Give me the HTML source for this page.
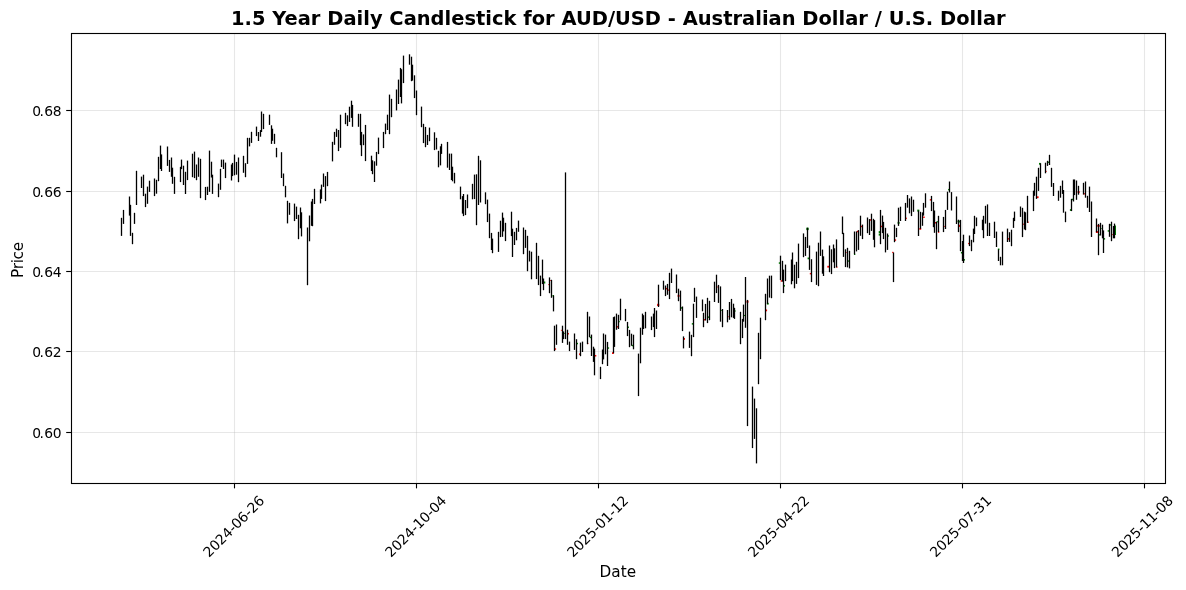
<!DOCTYPE html>
<html lang="en"><head><meta charset="utf-8"><title>1.5 Year Daily Candlestick for AUD/USD</title>
<style>html,body{margin:0;padding:0;background:#fff}body{width:1186px;height:590px;overflow:hidden}svg{will-change:transform}</style></head>
<body>
<svg width="1186" height="590" viewBox="0 0 1186 590" style="display:block;font-family:'DejaVu Sans','Liberation Sans',sans-serif">
<rect width="1186" height="590" fill="#fff"/>
<g stroke="#b0b0b0" stroke-opacity="0.3" stroke-width="1.11">
<line x1="234.5" y1="33.5" x2="234.5" y2="483.5"/>
<line x1="416.5" y1="33.5" x2="416.5" y2="483.5"/>
<line x1="598.5" y1="33.5" x2="598.5" y2="483.5"/>
<line x1="780.5" y1="33.5" x2="780.5" y2="483.5"/>
<line x1="962.5" y1="33.5" x2="962.5" y2="483.5"/>
<line x1="1144.5" y1="33.5" x2="1144.5" y2="483.5"/>
<line x1="71.5" y1="110.5" x2="1165.5" y2="110.5"/>
<line x1="71.5" y1="191.5" x2="1165.5" y2="191.5"/>
<line x1="71.5" y1="271.5" x2="1165.5" y2="271.5"/>
<line x1="71.5" y1="351.5" x2="1165.5" y2="351.5"/>
<line x1="71.5" y1="432.5" x2="1165.5" y2="432.5"/>
</g>
<g>
<rect x="1115" y="225.5" width="1" height="9.5" fill="#008000"/>
<rect x="543.3" y="281.5" width="2" height="2" fill="#008000"/>
<rect x="550.3" y="280.0" width="1" height="1" fill="#ff0000"/>
<rect x="548.3" y="284.1" width="1" height="1" fill="#ff0000"/>
<rect x="552.5" y="295.0" width="1.5" height="1.5" fill="#008000"/>
<rect x="554.6" y="348.3" width="1.5" height="1.5" fill="#ff0000"/>
<rect x="560.9" y="329.8" width="1" height="1" fill="#ff0000"/>
<rect x="567.4" y="333.0" width="1.5" height="1.5" fill="#ff0000"/>
<rect x="564.2" y="332.9" width="1" height="1" fill="#008000"/>
<rect x="576.5" y="342.8" width="1.5" height="1.5" fill="#008000"/>
<rect x="579.0" y="353.4" width="1.5" height="1.5" fill="#ff0000"/>
<rect x="587.4" y="343.1" width="1" height="1" fill="#ff0000"/>
<rect x="589.8" y="336.7" width="1.5" height="1.5" fill="#008000"/>
<rect x="594.8" y="355.0" width="1.5" height="1.5" fill="#ff0000"/>
<rect x="607.6" y="347.3" width="1.5" height="1.5" fill="#008000"/>
<rect x="612.0" y="352.2" width="1.8" height="1.8" fill="#ff0000"/>
<rect x="618.2" y="320.8" width="1.5" height="1.5" fill="#008000"/>
<rect x="616.8" y="326.1" width="1.5" height="1.5" fill="#ff0000"/>
<rect x="627.4" y="326.5" width="1.5" height="1.5" fill="#008000"/>
<rect x="631.9" y="344.8" width="1.5" height="1.5" fill="#008000"/>
<rect x="657.1" y="303.8" width="2.2" height="2.2" fill="#ff0000"/>
<rect x="665.6" y="287.9" width="1.5" height="1.5" fill="#ff0000"/>
<rect x="667.8" y="289.5" width="1.2" height="1.2" fill="#ff0000"/>
<rect x="677.6" y="294.8" width="2" height="2" fill="#ff0000"/>
<rect x="680.9" y="307.2" width="1.5" height="1.5" fill="#008000"/>
<rect x="683.2" y="338.0" width="1.8" height="1.8" fill="#ff0000"/>
<rect x="691.8" y="323.1" width="1.5" height="1.5" fill="#008000"/>
<rect x="703.6" y="319.0" width="1.5" height="1.5" fill="#ff0000"/>
<rect x="707.7" y="316.4" width="1.5" height="1.5" fill="#008000"/>
<rect x="717.4" y="286.4" width="1.2" height="1.2" fill="#ff0000"/>
<rect x="721.2" y="309.9" width="1" height="1" fill="#008000"/>
<rect x="728.3" y="316.2" width="1" height="1" fill="#ff0000"/>
<rect x="734.8" y="310.5" width="1" height="1" fill="#008000"/>
<rect x="806.3" y="227.7" width="2.4" height="2.4" fill="#008000"/>
<rect x="778.8" y="262.3" width="1.5" height="1.5" fill="#008000"/>
<rect x="780.7" y="280.2" width="1.5" height="1.5" fill="#ff0000"/>
<rect x="783.5" y="285.1" width="1.5" height="1.5" fill="#008000"/>
<rect x="807.6" y="257.5" width="1.8" height="1.8" fill="#008000"/>
<rect x="809.8" y="272.9" width="1.5" height="1.5" fill="#ff0000"/>
<rect x="827.3" y="265.8" width="1.8" height="1.8" fill="#ff0000"/>
<rect x="836.3" y="266.5" width="1.2" height="1.2" fill="#ff0000"/>
<rect x="847.9" y="260.4" width="1.3" height="1.3" fill="#008000"/>
<rect x="845.6" y="252.0" width="1" height="1" fill="#ff0000"/>
<rect x="854.0" y="253.7" width="1.3" height="1.3" fill="#008000"/>
<rect x="856.9" y="230.8" width="1.5" height="1.5" fill="#ff0000"/>
<rect x="861.0" y="225.7" width="1.5" height="1.5" fill="#ff0000"/>
<rect x="869.7" y="219.2" width="1.5" height="1.5" fill="#ff0000"/>
<rect x="878.7" y="231.1" width="2" height="2" fill="#008000"/>
<rect x="878.7" y="233.6" width="2" height="2" fill="#008000"/>
<rect x="880.9" y="225.7" width="1.5" height="1.5" fill="#ff0000"/>
<rect x="887.4" y="235.2" width="1.5" height="1.5" fill="#008000"/>
<rect x="894.6" y="239.3" width="1.5" height="1.5" fill="#ff0000"/>
<rect x="897.6" y="221.8" width="2" height="2" fill="#008000"/>
<rect x="905.3" y="217.6" width="1.5" height="1.5" fill="#ff0000"/>
<rect x="917.3" y="209.6" width="2" height="2" fill="#008000"/>
<rect x="919.4" y="228.0" width="1.8" height="1.8" fill="#ff0000"/>
<rect x="923.2" y="216.5" width="1.5" height="1.5" fill="#ff0000"/>
<rect x="934.8" y="222.0" width="1.5" height="1.5" fill="#ff0000"/>
<rect x="936.6" y="221.1" width="1.3" height="1.3" fill="#008000"/>
<rect x="938.0" y="231.5" width="1.3" height="1.3" fill="#ff0000"/>
<rect x="943.8" y="225.9" width="1" height="1" fill="#ff0000"/>
<rect x="957.5" y="220.5" width="1.8" height="1.8" fill="#008000"/>
<rect x="958.9" y="224.8" width="1.3" height="1.3" fill="#ff0000"/>
<rect x="746.5" y="300.7" width="2" height="2" fill="#ff0000"/>
<rect x="766.9" y="302.8" width="1.8" height="1.8" fill="#008000"/>
<rect x="765.3" y="309.5" width="1.8" height="1.8" fill="#ff0000"/>
<rect x="743.8" y="314.9" width="1.2" height="1.2" fill="#008000"/>
<rect x="892.2" y="251.8" width="1.3" height="1.3" fill="#ff0000"/>
<rect x="929.8" y="199.1" width="1.5" height="1.5" fill="#ff0000"/>
<rect x="948.1" y="188.9" width="1.5" height="1.5" fill="#008000"/>
<rect x="958.1" y="220.7" width="1.8" height="1.8" fill="#008000"/>
<rect x="958.9" y="225.6" width="1.3" height="1.3" fill="#ff0000"/>
<rect x="960.9" y="252.0" width="1.5" height="1.5" fill="#008000"/>
<rect x="963.5" y="259.1" width="1.5" height="1.5" fill="#008000"/>
<rect x="968.1" y="242.9" width="1.3" height="1.3" fill="#ff0000"/>
<rect x="997.9" y="248.5" width="1.5" height="1.5" fill="#008000"/>
<rect x="1007.6" y="238.1" width="1.5" height="1.5" fill="#ff0000"/>
<rect x="1023.3" y="223.5" width="1.5" height="1.5" fill="#ff0000"/>
<rect x="1027.5" y="221.6" width="1.2" height="1.2" fill="#ff0000"/>
<rect x="1036.8" y="196.3" width="1.8" height="1.8" fill="#ff0000"/>
<rect x="1039.0" y="162.9" width="1.8" height="1.8" fill="#008000"/>
<rect x="1045.4" y="170.8" width="1.2" height="1.2" fill="#ff0000"/>
<rect x="1047.8" y="161.6" width="1.3" height="1.3" fill="#008000"/>
<rect x="1069.9" y="209.1" width="1.8" height="1.8" fill="#008000"/>
<rect x="1071.7" y="198.7" width="1.5" height="1.5" fill="#008000"/>
<rect x="1077.6" y="191.1" width="2" height="2" fill="#ff0000"/>
<rect x="1083.3" y="193.0" width="1.5" height="1.5" fill="#ff0000"/>
<rect x="1095.9" y="231.0" width="2" height="2" fill="#ff0000"/>
<rect x="1097.5" y="224.9" width="1.5" height="1.5" fill="#ff0000"/>
<rect x="1103.6" y="238.1" width="1.5" height="1.5" fill="#008000"/>
<rect x="1107.7" y="230.2" width="1.5" height="1.5" fill="#008000"/>
<rect x="1096.4" y="225.3" width="1.3" height="1.3" fill="#ff0000"/>
<rect x="1099.0" y="225.3" width="1.3" height="1.3" fill="#ff0000"/>
<rect x="1099.0" y="234.2" width="1.3" height="1.3" fill="#008000"/>
<rect x="1109.9" y="224.3" width="1.3" height="1.3" fill="#008000"/>
<rect x="1111.8" y="234.1" width="1.0" height="1.0" fill="#ff0000"/>
<rect x="1101.0" y="228.1" width="0.8" height="0.8" fill="#008000"/>
</g>
<g stroke="#000" stroke-width="1.3">
<line x1="121.5" y1="217.8" x2="121.5" y2="235.9"/>
<line x1="123.5" y1="209.9" x2="123.5" y2="223.9"/>
<line x1="129.5" y1="196.5" x2="129.5" y2="215.6"/>
<line x1="130.5" y1="204.8" x2="130.5" y2="235.9"/>
<line x1="132.5" y1="232.8" x2="132.5" y2="244.2"/>
<line x1="134.5" y1="212.8" x2="134.5" y2="223.9"/>
<line x1="136.5" y1="170.8" x2="136.5" y2="205.0"/>
<line x1="141.5" y1="176.6" x2="141.5" y2="188.0"/>
<line x1="143.5" y1="174.7" x2="143.5" y2="196.1"/>
<line x1="145.5" y1="193.7" x2="145.5" y2="207.1"/>
<line x1="147.5" y1="186.6" x2="147.5" y2="203.8"/>
<line x1="149.5" y1="180.7" x2="149.5" y2="191.9"/>
<line x1="154.5" y1="178.5" x2="154.5" y2="196.1"/>
<line x1="156.5" y1="179.8" x2="156.5" y2="193.7"/>
<line x1="158.5" y1="156.8" x2="158.5" y2="181.2"/>
<line x1="160.5" y1="145.6" x2="160.5" y2="169.0"/>
<line x1="161.5" y1="154.4" x2="161.5" y2="171.0"/>
<line x1="167.5" y1="146.5" x2="167.5" y2="165.9"/>
<line x1="169.5" y1="159.9" x2="169.5" y2="171.9"/>
<line x1="171.5" y1="157.5" x2="171.5" y2="176.8"/>
<line x1="172.5" y1="167.7" x2="172.5" y2="183.8"/>
<line x1="174.5" y1="176.8" x2="174.5" y2="193.9"/>
<line x1="180.5" y1="166.8" x2="180.5" y2="182.1"/>
<line x1="181.5" y1="159.6" x2="181.5" y2="169.1"/>
<line x1="183.5" y1="165.7" x2="183.5" y2="185.0"/>
<line x1="185.5" y1="171.8" x2="185.5" y2="194.0"/>
<line x1="187.5" y1="160.6" x2="187.5" y2="180.1"/>
<line x1="192.5" y1="153.7" x2="192.5" y2="177.2"/>
<line x1="194.5" y1="151.6" x2="194.5" y2="178.1"/>
<line x1="196.5" y1="164.5" x2="196.5" y2="180.2"/>
<line x1="198.5" y1="157.5" x2="198.5" y2="176.8"/>
<line x1="200.5" y1="158.8" x2="200.5" y2="198.2"/>
<line x1="205.5" y1="186.9" x2="205.5" y2="200.1"/>
<line x1="207.5" y1="186.7" x2="207.5" y2="195.0"/>
<line x1="209.5" y1="150.6" x2="209.5" y2="191.9"/>
<line x1="211.5" y1="161.7" x2="211.5" y2="177.5"/>
<line x1="212.5" y1="174.7" x2="212.5" y2="193.9"/>
<line x1="218.5" y1="183.6" x2="218.5" y2="197.2"/>
<line x1="220.5" y1="168.8" x2="220.5" y2="189.8"/>
<line x1="221.5" y1="159.6" x2="221.5" y2="167.1"/>
<line x1="223.5" y1="159.6" x2="223.5" y2="169.0"/>
<line x1="225.5" y1="162.6" x2="225.5" y2="178.1"/>
<line x1="231.5" y1="164.5" x2="231.5" y2="180.5"/>
<line x1="232.5" y1="162.9" x2="232.5" y2="176.1"/>
<line x1="234.5" y1="154.6" x2="234.5" y2="175.3"/>
<line x1="236.5" y1="161.9" x2="236.5" y2="174.7"/>
<line x1="238.5" y1="157.5" x2="238.5" y2="182.2"/>
<line x1="243.5" y1="155.8" x2="243.5" y2="172.8"/>
<line x1="245.5" y1="163.2" x2="245.5" y2="177.2"/>
<line x1="247.5" y1="137.8" x2="247.5" y2="163.9"/>
<line x1="249.5" y1="137.8" x2="249.5" y2="146.4"/>
<line x1="251.5" y1="131.8" x2="251.5" y2="142.9"/>
<line x1="256.5" y1="126.6" x2="256.5" y2="136.1"/>
<line x1="258.5" y1="132.0" x2="258.5" y2="141.0"/>
<line x1="260.5" y1="130.1" x2="260.5" y2="136.7"/>
<line x1="261.5" y1="111.5" x2="261.5" y2="132.0"/>
<line x1="263.5" y1="113.8" x2="263.5" y2="129.1"/>
<line x1="269.5" y1="114.7" x2="269.5" y2="124.9"/>
<line x1="271.5" y1="125.3" x2="271.5" y2="143.9"/>
<line x1="272.5" y1="128.7" x2="272.5" y2="140.8"/>
<line x1="274.5" y1="133.8" x2="274.5" y2="143.9"/>
<line x1="276.5" y1="147.8" x2="276.5" y2="157.3"/>
<line x1="281.5" y1="152.2" x2="281.5" y2="178.0"/>
<line x1="283.5" y1="173.5" x2="283.5" y2="186.2"/>
<line x1="285.5" y1="185.8" x2="285.5" y2="197.3"/>
<line x1="287.5" y1="200.8" x2="287.5" y2="223.4"/>
<line x1="289.5" y1="202.8" x2="289.5" y2="214.8"/>
<line x1="294.5" y1="203.6" x2="294.5" y2="221.1"/>
<line x1="296.5" y1="206.6" x2="296.5" y2="219.0"/>
<line x1="298.5" y1="214.8" x2="298.5" y2="239.2"/>
<line x1="300.5" y1="207.5" x2="300.5" y2="228.3"/>
<line x1="301.5" y1="212.3" x2="301.5" y2="236.4"/>
<line x1="307.5" y1="227.5" x2="307.5" y2="285.2"/>
<line x1="309.5" y1="215.5" x2="309.5" y2="241.3"/>
<line x1="311.5" y1="201.5" x2="311.5" y2="225.8"/>
<line x1="312.5" y1="198.9" x2="312.5" y2="226.2"/>
<line x1="314.5" y1="188.8" x2="314.5" y2="204.0"/>
<line x1="320.5" y1="189.4" x2="320.5" y2="203.4"/>
<line x1="321.5" y1="184.6" x2="321.5" y2="198.9"/>
<line x1="323.5" y1="173.5" x2="323.5" y2="186.9"/>
<line x1="325.5" y1="176.1" x2="325.5" y2="201.1"/>
<line x1="327.5" y1="171.9" x2="327.5" y2="186.2"/>
<line x1="332.5" y1="141.8" x2="332.5" y2="161.4"/>
<line x1="334.5" y1="131.9" x2="334.5" y2="144.8"/>
<line x1="336.5" y1="128.7" x2="336.5" y2="136.9"/>
<line x1="338.5" y1="130.0" x2="338.5" y2="151.1"/>
<line x1="340.5" y1="114.7" x2="340.5" y2="147.8"/>
<line x1="345.5" y1="112.8" x2="345.5" y2="124.2"/>
<line x1="347.5" y1="115.3" x2="347.5" y2="126.1"/>
<line x1="349.5" y1="106.7" x2="349.5" y2="121.9"/>
<line x1="351.5" y1="100.7" x2="351.5" y2="117.9"/>
<line x1="352.5" y1="104.9" x2="352.5" y2="126.8"/>
<line x1="358.5" y1="113.8" x2="358.5" y2="126.8"/>
<line x1="360.5" y1="113.8" x2="360.5" y2="145.2"/>
<line x1="361.5" y1="131.9" x2="361.5" y2="156.1"/>
<line x1="363.5" y1="134.4" x2="363.5" y2="145.2"/>
<line x1="365.5" y1="124.9" x2="365.5" y2="161.1"/>
<line x1="371.5" y1="155.7" x2="371.5" y2="171.0"/>
<line x1="372.5" y1="160.3" x2="372.5" y2="174.2"/>
<line x1="374.5" y1="161.3" x2="374.5" y2="182.0"/>
<line x1="376.5" y1="151.9" x2="376.5" y2="165.7"/>
<line x1="378.5" y1="137.6" x2="378.5" y2="154.1"/>
<line x1="383.5" y1="131.9" x2="383.5" y2="148.1"/>
<line x1="385.5" y1="123.6" x2="385.5" y2="134.2"/>
<line x1="387.5" y1="114.7" x2="387.5" y2="130.0"/>
<line x1="389.5" y1="94.6" x2="389.5" y2="134.2"/>
<line x1="391.5" y1="98.8" x2="391.5" y2="117.2"/>
<line x1="396.5" y1="89.5" x2="396.5" y2="110.4"/>
<line x1="398.5" y1="79.6" x2="398.5" y2="104.0"/>
<line x1="400.5" y1="67.9" x2="400.5" y2="97.0"/>
<line x1="401.5" y1="69.2" x2="401.5" y2="103.4"/>
<line x1="403.5" y1="55.6" x2="403.5" y2="83.1"/>
<line x1="409.5" y1="54.3" x2="409.5" y2="64.7"/>
<line x1="411.5" y1="56.7" x2="411.5" y2="81.2"/>
<line x1="412.5" y1="64.7" x2="412.5" y2="80.6"/>
<line x1="414.5" y1="75.3" x2="414.5" y2="98.1"/>
<line x1="416.5" y1="90.5" x2="416.5" y2="115.2"/>
<line x1="421.5" y1="106.6" x2="421.5" y2="127.2"/>
<line x1="423.5" y1="123.8" x2="423.5" y2="143.1"/>
<line x1="425.5" y1="126.9" x2="425.5" y2="147.2"/>
<line x1="427.5" y1="134.9" x2="427.5" y2="145.0"/>
<line x1="429.5" y1="127.6" x2="429.5" y2="141.2"/>
<line x1="434.5" y1="132.3" x2="434.5" y2="150.1"/>
<line x1="436.5" y1="137.8" x2="436.5" y2="149.5"/>
<line x1="438.5" y1="150.8" x2="438.5" y2="167.3"/>
<line x1="440.5" y1="146.3" x2="440.5" y2="165.4"/>
<line x1="441.5" y1="143.8" x2="441.5" y2="153.9"/>
<line x1="447.5" y1="141.9" x2="447.5" y2="167.7"/>
<line x1="449.5" y1="153.6" x2="449.5" y2="170.0"/>
<line x1="451.5" y1="153.6" x2="451.5" y2="180.0"/>
<line x1="452.5" y1="166.7" x2="452.5" y2="181.3"/>
<line x1="454.5" y1="172.8" x2="454.5" y2="183.4"/>
<line x1="460.5" y1="186.6" x2="460.5" y2="199.3"/>
<line x1="462.5" y1="196.1" x2="462.5" y2="213.6"/>
<line x1="463.5" y1="194.0" x2="463.5" y2="216.1"/>
<line x1="465.5" y1="200.0" x2="465.5" y2="215.1"/>
<line x1="467.5" y1="194.5" x2="467.5" y2="208.2"/>
<line x1="472.5" y1="183.8" x2="472.5" y2="199.3"/>
<line x1="474.5" y1="174.6" x2="474.5" y2="199.1"/>
<line x1="476.5" y1="174.3" x2="476.5" y2="225.2"/>
<line x1="478.5" y1="155.8" x2="478.5" y2="205.0"/>
<line x1="480.5" y1="160.3" x2="480.5" y2="202.5"/>
<line x1="485.5" y1="192.3" x2="485.5" y2="204.2"/>
<line x1="487.5" y1="199.6" x2="487.5" y2="222.1"/>
<line x1="489.5" y1="213.6" x2="489.5" y2="238.2"/>
<line x1="491.5" y1="232.9" x2="491.5" y2="250.0"/>
<line x1="492.5" y1="238.6" x2="492.5" y2="253.2"/>
<line x1="498.5" y1="231.8" x2="498.5" y2="251.9"/>
<line x1="500.5" y1="220.7" x2="500.5" y2="237.1"/>
<line x1="502.5" y1="212.6" x2="502.5" y2="236.8"/>
<line x1="503.5" y1="217.7" x2="503.5" y2="231.4"/>
<line x1="505.5" y1="222.8" x2="505.5" y2="241.1"/>
<line x1="511.5" y1="211.7" x2="511.5" y2="236.1"/>
<line x1="512.5" y1="228.7" x2="512.5" y2="257.0"/>
<line x1="514.5" y1="231.8" x2="514.5" y2="245.0"/>
<line x1="516.5" y1="227.9" x2="516.5" y2="240.3"/>
<line x1="518.5" y1="220.6" x2="518.5" y2="231.8"/>
<line x1="523.5" y1="227.5" x2="523.5" y2="254.2"/>
<line x1="525.5" y1="229.8" x2="525.5" y2="247.9"/>
<line x1="527.5" y1="235.8" x2="527.5" y2="271.2"/>
<line x1="529.5" y1="250.7" x2="529.5" y2="261.5"/>
<line x1="531.5" y1="251.7" x2="531.5" y2="279.3"/>
<line x1="536.5" y1="242.8" x2="536.5" y2="279.1"/>
<line x1="538.5" y1="255.8" x2="538.5" y2="285.1"/>
<line x1="540.5" y1="275.6" x2="540.5" y2="296.1"/>
<line x1="542.5" y1="259.6" x2="542.5" y2="284.1"/>
<line x1="543.5" y1="278.5" x2="543.5" y2="290.2"/>
<line x1="549.5" y1="277.4" x2="549.5" y2="293.2"/>
<line x1="551.5" y1="279.8" x2="551.5" y2="297.8"/>
<line x1="553.5" y1="295.5" x2="553.5" y2="311.4"/>
<line x1="554.5" y1="325.7" x2="554.5" y2="351.1"/>
<line x1="556.5" y1="324.5" x2="556.5" y2="344.8"/>
<line x1="562.5" y1="325.7" x2="562.5" y2="342.9"/>
<line x1="563.5" y1="331.4" x2="563.5" y2="339.1"/>
<line x1="565.5" y1="172.4" x2="565.5" y2="339.1"/>
<line x1="567.5" y1="329.7" x2="567.5" y2="344.8"/>
<line x1="569.5" y1="341.6" x2="569.5" y2="351.1"/>
<line x1="574.5" y1="333.5" x2="574.5" y2="349.9"/>
<line x1="576.5" y1="339.2" x2="576.5" y2="359.2"/>
<line x1="580.5" y1="342.6" x2="580.5" y2="356.2"/>
<line x1="582.5" y1="341.6" x2="582.5" y2="352.0"/>
<line x1="587.5" y1="311.8" x2="587.5" y2="344.2"/>
<line x1="589.5" y1="316.5" x2="589.5" y2="337.2"/>
<line x1="591.5" y1="334.6" x2="591.5" y2="356.0"/>
<line x1="593.5" y1="346.7" x2="593.5" y2="361.9"/>
<line x1="594.5" y1="348.6" x2="594.5" y2="375.3"/>
<line x1="600.5" y1="366.8" x2="600.5" y2="379.1"/>
<line x1="602.5" y1="349.5" x2="602.5" y2="364.2"/>
<line x1="603.5" y1="333.5" x2="603.5" y2="359.4"/>
<line x1="605.5" y1="334.6" x2="605.5" y2="354.3"/>
<line x1="607.5" y1="341.9" x2="607.5" y2="366.0"/>
<line x1="613.5" y1="317.1" x2="613.5" y2="353.3"/>
<line x1="614.5" y1="316.5" x2="614.5" y2="346.9"/>
<line x1="616.5" y1="313.6" x2="616.5" y2="329.8"/>
<line x1="618.5" y1="314.8" x2="618.5" y2="329.0"/>
<line x1="620.5" y1="298.7" x2="620.5" y2="320.3"/>
<line x1="625.5" y1="308.9" x2="625.5" y2="321.2"/>
<line x1="627.5" y1="321.9" x2="627.5" y2="336.1"/>
<line x1="629.5" y1="329.9" x2="629.5" y2="347.2"/>
<line x1="631.5" y1="333.7" x2="631.5" y2="345.8"/>
<line x1="633.5" y1="334.7" x2="633.5" y2="349.3"/>
<line x1="638.5" y1="353.6" x2="638.5" y2="396.1"/>
<line x1="640.5" y1="327.7" x2="640.5" y2="363.3"/>
<line x1="642.5" y1="313.6" x2="642.5" y2="334.8"/>
<line x1="643.5" y1="315.2" x2="643.5" y2="329.0"/>
<line x1="645.5" y1="311.8" x2="645.5" y2="328.3"/>
<line x1="651.5" y1="316.5" x2="651.5" y2="330.1"/>
<line x1="653.5" y1="313.6" x2="653.5" y2="327.1"/>
<line x1="654.5" y1="308.0" x2="654.5" y2="337.1"/>
<line x1="656.5" y1="310.5" x2="656.5" y2="329.0"/>
<line x1="658.5" y1="284.7" x2="658.5" y2="307.0"/>
<line x1="663.5" y1="280.7" x2="663.5" y2="289.7"/>
<line x1="665.5" y1="285.5" x2="665.5" y2="296.1"/>
<line x1="667.5" y1="283.9" x2="667.5" y2="294.8"/>
<line x1="669.5" y1="272.8" x2="669.5" y2="299.1"/>
<line x1="671.5" y1="268.6" x2="671.5" y2="283.0"/>
<line x1="676.5" y1="274.5" x2="676.5" y2="293.1"/>
<line x1="678.5" y1="288.7" x2="678.5" y2="301.2"/>
<line x1="680.5" y1="290.6" x2="680.5" y2="310.9"/>
<line x1="682.5" y1="306.5" x2="682.5" y2="331.1"/>
<line x1="683.5" y1="336.4" x2="683.5" y2="348.4"/>
<line x1="689.5" y1="331.6" x2="689.5" y2="347.9"/>
<line x1="691.5" y1="334.8" x2="691.5" y2="356.2"/>
<line x1="693.5" y1="303.7" x2="693.5" y2="337.1"/>
<line x1="694.5" y1="287.8" x2="694.5" y2="302.0"/>
<line x1="696.5" y1="296.6" x2="696.5" y2="317.9"/>
<line x1="702.5" y1="299.5" x2="702.5" y2="311.3"/>
<line x1="703.5" y1="312.8" x2="703.5" y2="327.2"/>
<line x1="705.5" y1="303.9" x2="705.5" y2="320.5"/>
<line x1="707.5" y1="297.8" x2="707.5" y2="323.1"/>
<line x1="709.5" y1="300.8" x2="709.5" y2="320.2"/>
<line x1="714.5" y1="281.7" x2="714.5" y2="302.0"/>
<line x1="716.5" y1="274.7" x2="716.5" y2="293.1"/>
<line x1="718.5" y1="284.9" x2="718.5" y2="302.9"/>
<line x1="720.5" y1="286.4" x2="720.5" y2="321.7"/>
<line x1="722.5" y1="309.0" x2="722.5" y2="327.2"/>
<line x1="727.5" y1="310.0" x2="727.5" y2="322.3"/>
<line x1="729.5" y1="302.0" x2="729.5" y2="319.8"/>
<line x1="731.5" y1="298.9" x2="731.5" y2="317.3"/>
<line x1="733.5" y1="303.7" x2="733.5" y2="317.9"/>
<line x1="734.5" y1="307.8" x2="734.5" y2="318.9"/>
<line x1="740.5" y1="311.8" x2="740.5" y2="344.2"/>
<line x1="742.5" y1="318.9" x2="742.5" y2="338.1"/>
<line x1="743.5" y1="304.6" x2="743.5" y2="321.7"/>
<line x1="745.5" y1="277.0" x2="745.5" y2="327.8"/>
<line x1="747.5" y1="299.9" x2="747.5" y2="426.1"/>
<line x1="752.5" y1="386.6" x2="752.5" y2="448.1"/>
<line x1="754.5" y1="398.6" x2="754.5" y2="438.9"/>
<line x1="756.5" y1="408.3" x2="756.5" y2="463.4"/>
<line x1="758.5" y1="332.8" x2="758.5" y2="384.2"/>
<line x1="760.5" y1="317.7" x2="760.5" y2="359.2"/>
<line x1="765.5" y1="293.8" x2="765.5" y2="320.2"/>
<line x1="767.5" y1="278.5" x2="767.5" y2="303.9"/>
<line x1="769.5" y1="275.7" x2="769.5" y2="297.6"/>
<line x1="771.5" y1="275.6" x2="771.5" y2="298.2"/>
<line x1="780.5" y1="255.7" x2="780.5" y2="280.1"/>
<line x1="782.5" y1="260.8" x2="782.5" y2="281.7"/>
<line x1="783.5" y1="269.6" x2="783.5" y2="293.1"/>
<line x1="785.5" y1="264.6" x2="785.5" y2="281.1"/>
<line x1="791.5" y1="259.5" x2="791.5" y2="284.3"/>
<line x1="792.5" y1="252.5" x2="792.5" y2="281.1"/>
<line x1="794.5" y1="264.7" x2="794.5" y2="288.3"/>
<line x1="796.5" y1="261.8" x2="796.5" y2="283.9"/>
<line x1="798.5" y1="243.6" x2="798.5" y2="278.1"/>
<line x1="803.5" y1="233.4" x2="803.5" y2="257.2"/>
<line x1="805.5" y1="236.9" x2="805.5" y2="255.9"/>
<line x1="807.5" y1="227.7" x2="807.5" y2="248.0"/>
<line x1="809.5" y1="245.5" x2="809.5" y2="269.9"/>
<line x1="811.5" y1="259.2" x2="811.5" y2="282.1"/>
<line x1="816.5" y1="251.6" x2="816.5" y2="284.9"/>
<line x1="818.5" y1="242.7" x2="818.5" y2="286.2"/>
<line x1="820.5" y1="231.5" x2="820.5" y2="255.9"/>
<line x1="822.5" y1="249.6" x2="822.5" y2="273.7"/>
<line x1="823.5" y1="256.3" x2="823.5" y2="276.0"/>
<line x1="829.5" y1="245.5" x2="829.5" y2="272.2"/>
<line x1="831.5" y1="249.3" x2="831.5" y2="274.1"/>
<line x1="833.5" y1="244.5" x2="833.5" y2="262.3"/>
<line x1="834.5" y1="248.3" x2="834.5" y2="268.1"/>
<line x1="836.5" y1="239.4" x2="836.5" y2="267.4"/>
<line x1="842.5" y1="216.5" x2="842.5" y2="234.1"/>
<line x1="843.5" y1="232.8" x2="843.5" y2="256.9"/>
<line x1="845.5" y1="249.3" x2="845.5" y2="267.1"/>
<line x1="847.5" y1="247.8" x2="847.5" y2="267.4"/>
<line x1="849.5" y1="250.8" x2="849.5" y2="268.4"/>
<line x1="854.5" y1="231.5" x2="854.5" y2="254.4"/>
<line x1="856.5" y1="231.4" x2="856.5" y2="251.4"/>
<line x1="858.5" y1="230.1" x2="858.5" y2="249.9"/>
<line x1="860.5" y1="215.7" x2="860.5" y2="235.8"/>
<line x1="862.5" y1="224.6" x2="862.5" y2="239.1"/>
<line x1="867.5" y1="217.5" x2="867.5" y2="233.2"/>
<line x1="869.5" y1="219.1" x2="869.5" y2="235.0"/>
<line x1="871.5" y1="213.7" x2="871.5" y2="230.9"/>
<line x1="873.5" y1="218.8" x2="873.5" y2="239.8"/>
<line x1="874.5" y1="220.1" x2="874.5" y2="247.3"/>
<line x1="880.5" y1="209.9" x2="880.5" y2="244.2"/>
<line x1="882.5" y1="215.6" x2="882.5" y2="233.1"/>
<line x1="883.5" y1="221.9" x2="883.5" y2="239.1"/>
<line x1="885.5" y1="227.8" x2="885.5" y2="252.4"/>
<line x1="887.5" y1="233.5" x2="887.5" y2="249.9"/>
<line x1="893.5" y1="252.5" x2="893.5" y2="282.1"/>
<line x1="894.5" y1="224.6" x2="894.5" y2="242.2"/>
<line x1="896.5" y1="227.8" x2="896.5" y2="237.1"/>
<line x1="898.5" y1="207.7" x2="898.5" y2="225.9"/>
<line x1="900.5" y1="206.7" x2="900.5" y2="221.0"/>
<line x1="905.5" y1="202.9" x2="905.5" y2="221.0"/>
<line x1="907.5" y1="195.0" x2="907.5" y2="207.7"/>
<line x1="909.5" y1="198.4" x2="909.5" y2="213.3"/>
<line x1="911.5" y1="196.5" x2="911.5" y2="216.1"/>
<line x1="913.5" y1="199.7" x2="913.5" y2="211.8"/>
<line x1="918.5" y1="210.5" x2="918.5" y2="236.0"/>
<line x1="920.5" y1="211.8" x2="920.5" y2="228.8"/>
<line x1="922.5" y1="212.4" x2="922.5" y2="225.8"/>
<line x1="923.5" y1="202.9" x2="923.5" y2="215.6"/>
<line x1="925.5" y1="193.3" x2="925.5" y2="207.7"/>
<line x1="931.5" y1="195.9" x2="931.5" y2="211.1"/>
<line x1="933.5" y1="201.9" x2="933.5" y2="227.2"/>
<line x1="934.5" y1="210.5" x2="934.5" y2="232.8"/>
<line x1="936.5" y1="221.8" x2="936.5" y2="249.2"/>
<line x1="938.5" y1="215.8" x2="938.5" y2="232.1"/>
<line x1="943.5" y1="216.9" x2="943.5" y2="232.1"/>
<line x1="945.5" y1="209.9" x2="945.5" y2="229.0"/>
<line x1="947.5" y1="191.7" x2="947.5" y2="209.9"/>
<line x1="949.5" y1="181.5" x2="949.5" y2="192.5"/>
<line x1="951.5" y1="192.1" x2="951.5" y2="210.5"/>
<line x1="956.5" y1="196.5" x2="956.5" y2="224.0"/>
<line x1="958.5" y1="219.7" x2="958.5" y2="232.1"/>
<line x1="960.5" y1="219.9" x2="960.5" y2="251.2"/>
<line x1="962.5" y1="241.0" x2="962.5" y2="261.0"/>
<line x1="963.5" y1="234.7" x2="963.5" y2="263.0"/>
<line x1="969.5" y1="235.5" x2="969.5" y2="246.1"/>
<line x1="971.5" y1="239.8" x2="971.5" y2="251.2"/>
<line x1="973.5" y1="228.6" x2="973.5" y2="242.3"/>
<line x1="974.5" y1="215.8" x2="974.5" y2="234.0"/>
<line x1="976.5" y1="217.5" x2="976.5" y2="226.2"/>
<line x1="982.5" y1="219.7" x2="982.5" y2="230.2"/>
<line x1="983.5" y1="215.8" x2="983.5" y2="238.2"/>
<line x1="985.5" y1="205.8" x2="985.5" y2="223.6"/>
<line x1="987.5" y1="204.4" x2="987.5" y2="236.0"/>
<line x1="989.5" y1="222.8" x2="989.5" y2="236.0"/>
<line x1="994.5" y1="221.7" x2="994.5" y2="238.0"/>
<line x1="996.5" y1="231.6" x2="996.5" y2="247.0"/>
<line x1="998.5" y1="249.4" x2="998.5" y2="261.0"/>
<line x1="1000.5" y1="256.8" x2="1000.5" y2="265.3"/>
<line x1="1002.5" y1="231.6" x2="1002.5" y2="265.3"/>
<line x1="1007.5" y1="228.6" x2="1007.5" y2="242.0"/>
<line x1="1009.5" y1="232.2" x2="1009.5" y2="241.9"/>
<line x1="1011.5" y1="229.7" x2="1011.5" y2="246.2"/>
<line x1="1013.5" y1="217.8" x2="1013.5" y2="227.9"/>
<line x1="1014.5" y1="211.6" x2="1014.5" y2="221.1"/>
<line x1="1020.5" y1="206.5" x2="1020.5" y2="216.9"/>
<line x1="1022.5" y1="207.8" x2="1022.5" y2="237.1"/>
<line x1="1024.5" y1="211.6" x2="1024.5" y2="229.4"/>
<line x1="1025.5" y1="212.3" x2="1025.5" y2="230.2"/>
<line x1="1027.5" y1="195.8" x2="1027.5" y2="222.9"/>
<line x1="1033.5" y1="190.7" x2="1033.5" y2="211.1"/>
<line x1="1034.5" y1="182.8" x2="1034.5" y2="195.8"/>
<line x1="1036.5" y1="176.7" x2="1036.5" y2="198.9"/>
<line x1="1038.5" y1="167.8" x2="1038.5" y2="190.9"/>
<line x1="1040.5" y1="163.3" x2="1040.5" y2="178.0"/>
<line x1="1045.5" y1="162.7" x2="1045.5" y2="173.3"/>
<line x1="1047.5" y1="160.8" x2="1047.5" y2="165.9"/>
<line x1="1049.5" y1="154.8" x2="1049.5" y2="165.0"/>
<line x1="1051.5" y1="167.8" x2="1051.5" y2="186.9"/>
<line x1="1053.5" y1="183.0" x2="1053.5" y2="196.0"/>
<line x1="1058.5" y1="190.7" x2="1058.5" y2="200.8"/>
<line x1="1060.5" y1="185.8" x2="1060.5" y2="197.7"/>
<line x1="1062.5" y1="180.5" x2="1062.5" y2="193.9"/>
<line x1="1063.5" y1="190.0" x2="1063.5" y2="212.7"/>
<line x1="1065.5" y1="211.6" x2="1065.5" y2="222.2"/>
<line x1="1071.5" y1="198.9" x2="1071.5" y2="211.1"/>
<line x1="1073.5" y1="179.5" x2="1073.5" y2="201.5"/>
<line x1="1074.5" y1="179.5" x2="1074.5" y2="195.1"/>
<line x1="1076.5" y1="180.5" x2="1076.5" y2="199.8"/>
<line x1="1078.5" y1="185.8" x2="1078.5" y2="194.7"/>
<line x1="1083.5" y1="182.8" x2="1083.5" y2="194.5"/>
<line x1="1085.5" y1="181.5" x2="1085.5" y2="197.7"/>
<line x1="1087.5" y1="195.8" x2="1087.5" y2="207.8"/>
<line x1="1089.5" y1="186.6" x2="1089.5" y2="212.0"/>
<line x1="1091.5" y1="201.5" x2="1091.5" y2="237.0"/>
<line x1="1096.5" y1="218.5" x2="1096.5" y2="232.3"/>
<line x1="1098.5" y1="223.9" x2="1098.5" y2="255.2"/>
<line x1="1100.5" y1="222.8" x2="1100.5" y2="235.5"/>
<line x1="1102.5" y1="224.7" x2="1102.5" y2="238.3"/>
<line x1="1103.5" y1="230.4" x2="1103.5" y2="253.0"/>
<line x1="1109.5" y1="223.8" x2="1109.5" y2="236.8"/>
<line x1="1111.5" y1="221.7" x2="1111.5" y2="241.2"/>
<line x1="1113.5" y1="226.0" x2="1113.5" y2="238.3"/>
<line x1="1114.5" y1="223.6" x2="1114.5" y2="238.3"/>
</g>
<g stroke="#000" stroke-width="1.11">
<line x1="234.5" y1="483.5" x2="234.5" y2="488.36"/>
<line x1="416.5" y1="483.5" x2="416.5" y2="488.36"/>
<line x1="598.5" y1="483.5" x2="598.5" y2="488.36"/>
<line x1="780.5" y1="483.5" x2="780.5" y2="488.36"/>
<line x1="962.5" y1="483.5" x2="962.5" y2="488.36"/>
<line x1="1144.5" y1="483.5" x2="1144.5" y2="488.36"/>
<line x1="66.2" y1="110.5" x2="71.5" y2="110.5"/>
<line x1="66.2" y1="191.5" x2="71.5" y2="191.5"/>
<line x1="66.2" y1="271.5" x2="71.5" y2="271.5"/>
<line x1="66.2" y1="351.5" x2="71.5" y2="351.5"/>
<line x1="66.2" y1="432.5" x2="71.5" y2="432.5"/>
</g>
<rect x="71.5" y="33.5" width="1094.0" height="450.0" fill="none" stroke="#000" stroke-width="1.11"/>
<g font-size="13.89px" fill="#000">
<text x="32.28 39.41 44.25 52.66" y="115.8">0.68</text>
<text x="32.28 39.41 44.25 52.66" y="196.8">0.66</text>
<text x="32.28 39.41 44.25 52.66" y="276.8">0.64</text>
<text x="32.28 39.41 44.25 52.66" y="356.8">0.62</text>
<text x="32.28 39.41 44.25 52.66" y="437.8">0.60</text>
<text x="233.6" y="526.3" text-anchor="middle" transform="rotate(-45 233.6 526.3)" dy="5" letter-spacing="-0.1">2024-06-26</text>
<text x="415.6" y="526.3" text-anchor="middle" transform="rotate(-45 415.6 526.3)" dy="5" letter-spacing="-0.1">2024-10-04</text>
<text x="597.6" y="526.3" text-anchor="middle" transform="rotate(-45 597.6 526.3)" dy="5" letter-spacing="-0.1">2025-01-12</text>
<text x="778.4" y="526.3" text-anchor="middle" transform="rotate(-45 778.4 526.3)" dy="5" letter-spacing="-0.1">2025-04-22</text>
<text x="960.4" y="526.3" text-anchor="middle" transform="rotate(-45 960.4 526.3)" dy="5" letter-spacing="-0.1">2025-07-31</text>
<text x="1142.2" y="526.3" text-anchor="middle" transform="rotate(-45 1142.2 526.3)" dy="5" letter-spacing="-0.1">2025-11-08</text>
</g>
<text x="617.8" y="576.9" font-size="15.28px" text-anchor="middle">Date</text>
<text x="23.2" y="260.1" font-size="15.28px" text-anchor="middle" transform="rotate(-90 23.2 260.1)" letter-spacing="-0.3">Price</text>
<text x="618.3" y="24.6" font-size="19.44px" font-weight="bold" text-anchor="middle" letter-spacing="0.017">1.5 Year Daily Candlestick for AUD/USD - Australian Dollar / U.S. Dollar</text>
</svg>
</body></html>
